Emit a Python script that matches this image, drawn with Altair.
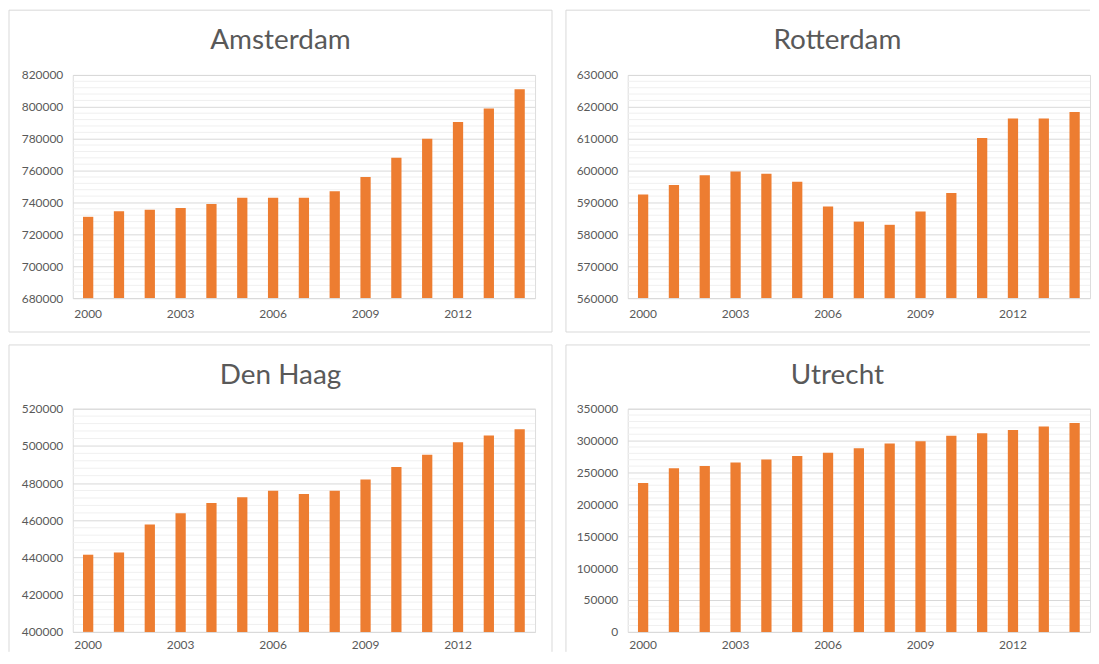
import altair as alt
import pandas as pd

years = list(range(2000, 2015))
amsterdam = [731000, 734500, 735500, 736500, 739000, 743000, 743000, 743000,
             747000, 756000, 768000, 780000, 790500, 799000, 811000]
rotterdam = [592500, 595500, 598500, 599700, 599000, 596500, 588700, 584000,
             583000, 587200, 593000, 610200, 616300, 616300, 618400]
den_haag = [441500, 442700, 457700, 463800, 469300, 472400, 475900, 474200,
            475900, 482000, 488600, 495300, 502000, 505600, 509000]
utrecht = [233500, 256500, 260000, 265500, 270500, 276000, 281000, 288000,
           295500, 299000, 307500, 311500, 316500, 322000, 327500]
label_years = [2000, 2003, 2006, 2009, 2012]

FONT = "Lato"
TXT = "#595959"
BAR = "#ED7D31"
W, H = 464, 224
PANEL_W = 545


def frame(edges, L, T, R, B):
    one = pd.DataFrame({"k": [0]})
    layers = []
    style = dict(color="#d9d9d9", strokeWidth=1)
    if "top" in edges:
        layers.append(alt.Chart(one).mark_rule(**style).encode(
            x=alt.value(L), x2=alt.value(R), y=alt.value(T)))
    if "bottom" in edges:
        layers.append(alt.Chart(one).mark_rule(**style).encode(
            x=alt.value(L), x2=alt.value(R), y=alt.value(B)))
    if "left" in edges:
        layers.append(alt.Chart(one).mark_rule(**style).encode(
            x=alt.value(L), y=alt.value(T), y2=alt.value(B)))
    if "right" in edges:
        layers.append(alt.Chart(one).mark_rule(**style).encode(
            x=alt.value(R), y=alt.value(T), y2=alt.value(B)))
    return layers


def panel(name, vals, lo, hi, major, minor, edges, L, T, R, B, label_pad):
    df = pd.DataFrame({"year": years, "value": vals, "base": [lo] * len(years)})
    yscale = alt.Scale(domain=[lo, hi], zero=False, nice=False)
    major_vals = list(range(lo, hi + 1, major))
    minor_vals = [v for v in range(lo, hi + 1, minor) if (v - lo) % major != 0]

    def yaxis():
        return alt.Axis(values=major_vals, format="d", title=None,
                        domain=False, ticks=False, labelPadding=10,
                        labelFontSize=12, labelColor=TXT,
                        labelFont=FONT, grid=True,
                        gridColor="#d9d9d9", gridWidth=1)

    minor_layer = alt.Chart(pd.DataFrame({"v": minor_vals})).mark_rule(
        color="#f0f0f0", strokeWidth=1
    ).encode(y=alt.Y("v:Q", scale=yscale, axis=yaxis()))

    bars = alt.Chart(df).mark_bar(color=BAR).encode(
        x=alt.X("year:O",
                scale=alt.Scale(paddingInner=0.667, paddingOuter=0.333),
                axis=alt.Axis(values=label_years, labelAngle=0, title=None,
                              domain=False, ticks=False, grid=False,
                              labelPadding=label_pad, labelFontSize=12,
                              labelColor=TXT, labelFont=FONT)),
        y=alt.Y("value:Q", scale=yscale, axis=yaxis()),
        y2="base:Q",
    )

    title = alt.Chart(pd.DataFrame({"t": [name]})).mark_text(
        font=FONT, fontSize=28, color=TXT, align="center", baseline="middle"
    ).encode(text="t:N", x=alt.value(L + PANEL_W / 2), y=alt.value(T + 31))

    layers = frame(edges, L, T, R, B) + [minor_layer, bars, title]
    return alt.layer(*layers).properties(width=W, height=H)


ams = panel("Amsterdam", amsterdam, 680000, 820000, 20000, 4000,
            ["top", "bottom", "left", "right"],
            L=-64, T=-65, R=481, B=H + 34, label_pad=10)
rot = panel("Rotterdam", rotterdam, 560000, 630000, 10000, 2000,
            ["top", "bottom", "left"],
            L=-62, T=-65, R=464, B=H + 34, label_pad=10)
dh = panel("Den Haag", den_haag, 400000, 520000, 20000, 4000,
           ["top", "left", "right"],
           L=-64, T=-64, R=481, B=H + 20, label_pad=8)
utr = panel("Utrecht", utrecht, 0, 350000, 50000, 10000,
            ["top", "left"],
            L=-62, T=-64, R=464, B=H + 20, label_pad=8)

chart = alt.vconcat(
    alt.hconcat(ams, rot, spacing=12),
    alt.hconcat(dh, utr, spacing=12),
    spacing=11,
).properties(
    padding={"left": 0, "top": 0, "right": 0, "bottom": 0}
).configure_view(stroke=None).configure(background="white")

chart.save("out.html", embed_options={"renderer": "svg", "actions": False})
